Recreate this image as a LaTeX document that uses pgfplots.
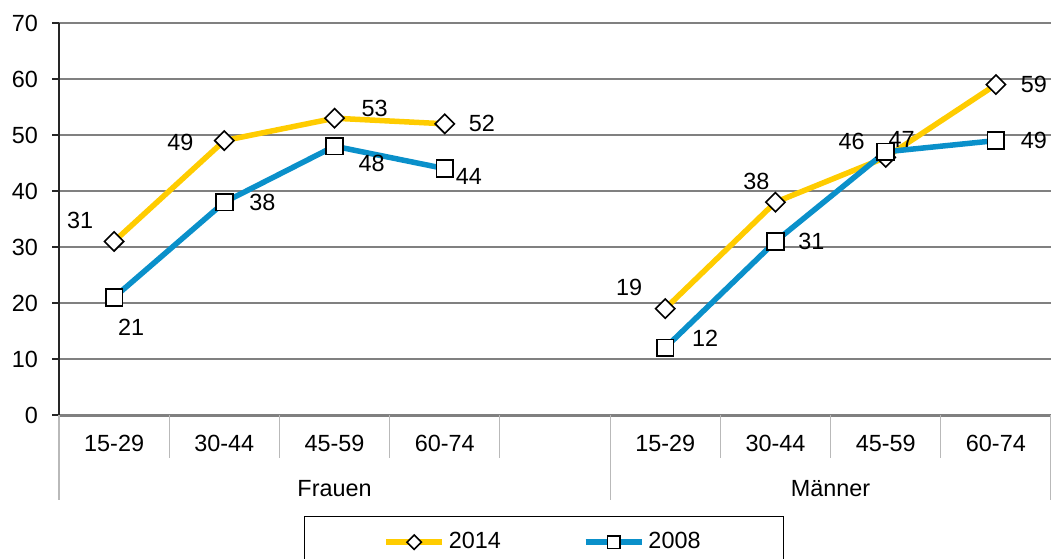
\documentclass[border=0pt]{standalone}
\usepackage{fontspec}
\setmainfont{Liberation Sans}
\usepackage{pgfplots}
\pgfplotsset{compat=1.18}
\usepackage{pgfplotstable}
\usetikzlibrary{calc}
\definecolor{cyel}{HTML}{FFCC00}
\definecolor{cblu}{HTML}{0A90CA}
\definecolor{cgrid}{HTML}{808080}
\pgfdeclareplotmark{mydiamond}{%
  \pgfpathmoveto{\pgfqpoint{0pt}{\pgfplotmarksize}}%
  \pgfpathlineto{\pgfqpoint{\pgfplotmarksize}{0pt}}%
  \pgfpathlineto{\pgfqpoint{0pt}{-\pgfplotmarksize}}%
  \pgfpathlineto{\pgfqpoint{-\pgfplotmarksize}{0pt}}%
  \pgfpathclose\pgfusepathqfillstroke}

\pgfplotstableread{
x y dx dy
0 31 -17 10.5
1 49 -22 -1
2 53 20 5
3 52 18.5 0
4 nan 0 0
5 19 -18 10.5
6 38 -9.5 10.5
7 46 -17 8
8 59 19 0
}\tA
\pgfplotstableread{
x y dx dy
0 21 8.5 -15
1 38 19 0
2 48 18.5 -8.5
3 44 12 -4
4 nan 0 0
5 12 20 4.5
6 31 18 0
7 47 8 6
8 49 19 0
}\tB

\begin{document}
\begin{tikzpicture}[font=\fontsize{11.7}{13.5}\selectfont]
\begin{axis}[
  name=ax,
  scale only axis, width=496pt, height=196pt,
  xmin=-0.5, xmax=8.5, ymin=0, ymax=70,
  ytick={0,10,...,70},
  xtick={0,1,2,3,5,6,7,8},
  xticklabels={15-29,30-44,45-59,60-74,15-29,30-44,45-59,60-74},
  x tick label style={anchor=center, yshift=-10.5pt},
  y tick label style={xshift=-3.5pt},
  major x tick style={draw=none},
  ymajorgrids, grid style={draw=cgrid, line width=0.6pt},
  axis x line*=bottom, axis y line*=left,
  x axis line style={draw=gray, line width=1.5pt, -},
  y axis line style={draw=black!85, line width=1pt, -},
  ytick style={draw=black!85, line width=0.6pt},
  tick align=outside, major tick length=3.5pt,
  clip=false,
  unbounded coords=jump,
  /pgf/number format/assume math mode=true,
  nodes near coords,
  visualization depends on={\thisrow{dx}\as\dx},
  visualization depends on={\thisrow{dy}\as\dy},
  every node near coord/.append style={anchor=center, xshift=\dx pt, yshift=\dy pt, text=black},
  legend style={at={(0.4889,0)}, anchor=north, yshift=-50.5pt, draw=black, line width=0.5pt,
    inner xsep=39.5pt, inner ysep=6pt, legend columns=2,
    /tikz/every even column/.append style={column sep=39pt}},
  legend image code/.code={\draw[mark repeat=2,mark phase=2,every mark/.append style={scale=0.75}] plot coordinates {(0pt,0pt)(14pt,0pt)(28pt,0pt)};},
]
\addplot[cyel, line width=2.75pt, mark=mydiamond, mark size=4.8pt,
  mark options={fill=white, draw=black, line width=0.8pt}] table[x=x,y=y] {\tA};
\addlegendentry{2014}
\addplot[cblu, line width=2.75pt, mark=square*, mark size=4.2pt,
  mark options={fill=white, draw=black, line width=0.8pt}] table[x=x,y=y] {\tB};
\addlegendentry{2008}
\pgfplotsinvokeforeach{0.5,1.5,2.5,3.5,5.5,6.5,7.5}{
  \draw[gray!55, line width=0.6pt] (axis cs:#1,0) -- ++(0pt,-21.5pt);
}
\pgfplotsinvokeforeach{-0.5,4.5,8.5}{
  \draw[gray!55, line width=0.6pt] (axis cs:#1,0) -- ++(0pt,-42.5pt);
}
\node[anchor=center, text=black] at ([yshift=-37pt]axis cs:2,0) {Frauen};
\node[anchor=center, text=black] at ([yshift=-37pt]axis cs:6.5,0) {Männer};
\coordinate (BL) at (rel axis cs:0,0);
\coordinate (TR) at (rel axis cs:1,1);
\end{axis}
\pgfresetboundingbox
\path[use as bounding box] ([shift={(-29.5pt,-71.5pt)}]BL) rectangle ([shift={(0pt,11.5pt)}]TR);
\end{tikzpicture}
\end{document}
